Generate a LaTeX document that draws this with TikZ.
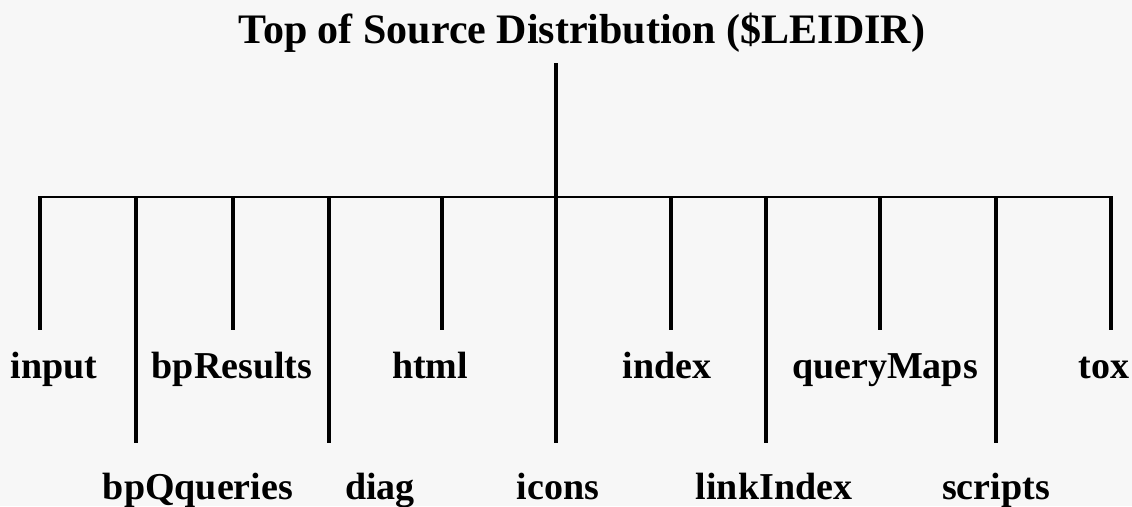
\documentclass[tikz,border=0pt]{standalone}
\usepackage{fontspec}
\setmainfont{Liberation Serif}
\usetikzlibrary{calc}

\begin{document}
\begin{tikzpicture}[x=1pt, y=-1pt, line cap=butt, line join=miter,
    branch/.style={line width=3.4pt, black},
    dirlabel/.style={anchor=base, inner sep=0pt, font=\fontsize{38}{44}\selectfont\bfseries}]

    % Fondo y marco
    \fill[white!97!black] (0,0) rectangle (1132,506);
    \useasboundingbox (0,0) rectangle (1132,506);

    % Raíz del árbol
    \node[anchor=base, inner sep=0pt, font=\fontsize{42}{50}\selectfont\bfseries]
        (top) at (582,43) {Top of Source Distribution (\$LEIDIR)};

    \coordinate (stem) at (556,63);
    \coordinate (hub) at (556,197);
    \coordinate (barL) at (40,197);
    \coordinate (barR) at (1111,197);

    \draw[branch] (stem) -- (hub);
    \draw[line width=2.8pt] ($(barL)+(-1.7,0)$) -- ($(barR)+(1.7,0)$);

    % Ramas cortas (fila de arriba)
    \coordinate (input-e) at (40,330);
    \coordinate (bpResults-e) at (233,330);
    \coordinate (html-e) at (442,330);
    \coordinate (index-e) at (671,330);
    \coordinate (queryMaps-e) at (880,330);
    \coordinate (tox-e) at (1111,330);

    \draw[branch] (barL) -- (input-e);
    \draw[branch] (233,197) coordinate (bpResults-b) -- (bpResults-e);
    \draw[branch] (442,197) coordinate (html-b) -- (html-e);
    \draw[branch] (671,197) coordinate (index-b) -- (index-e);
    \draw[branch] (880,197) coordinate (queryMaps-b) -- (queryMaps-e);
    \draw[branch] (barR) -- (tox-e);

    % Ramas largas (fila de abajo)
    \coordinate (bpQueries-e) at (136,443);
    \coordinate (diag-e) at (329,443);
    \coordinate (icons-e) at (556,443);
    \coordinate (linkIndex-e) at (766,443);
    \coordinate (scripts-e) at (996,443);

    \draw[branch] (136,197) coordinate (bpQueries-b) -- (bpQueries-e);
    \draw[branch] (329,197) coordinate (diag-b) -- (diag-e);
    \draw[branch] (hub) -- (icons-e);
    \draw[branch] (766,197) coordinate (linkIndex-b) -- (linkIndex-e);
    \draw[branch] (996,197) coordinate (scripts-b) -- (scripts-e);

    % Nombres de los directorios
    \node[dirlabel] (input) at (54,378) {input};
    \node[dirlabel] (bpResults) at (232,378) {bpResults};
    \node[dirlabel] (html) at (430,378) {html};
    \node[dirlabel] (index) at (667,378) {index};
    \node[dirlabel] (queryMaps) at (885,378) {queryMaps};
    \node[dirlabel] (tox) at (1104,378) {tox};

    \node[dirlabel] (bpQueries) at (198,499) {bpQqueries};
    \node[dirlabel] (diag) at (380,499) {diag};
    \node[dirlabel] (icons) at (558,499) {icons};
    \node[dirlabel] (linkIndex) at (774,499) {linkIndex};
    \node[dirlabel] (scripts) at (996,499) {scripts};

\end{tikzpicture}
\end{document}
